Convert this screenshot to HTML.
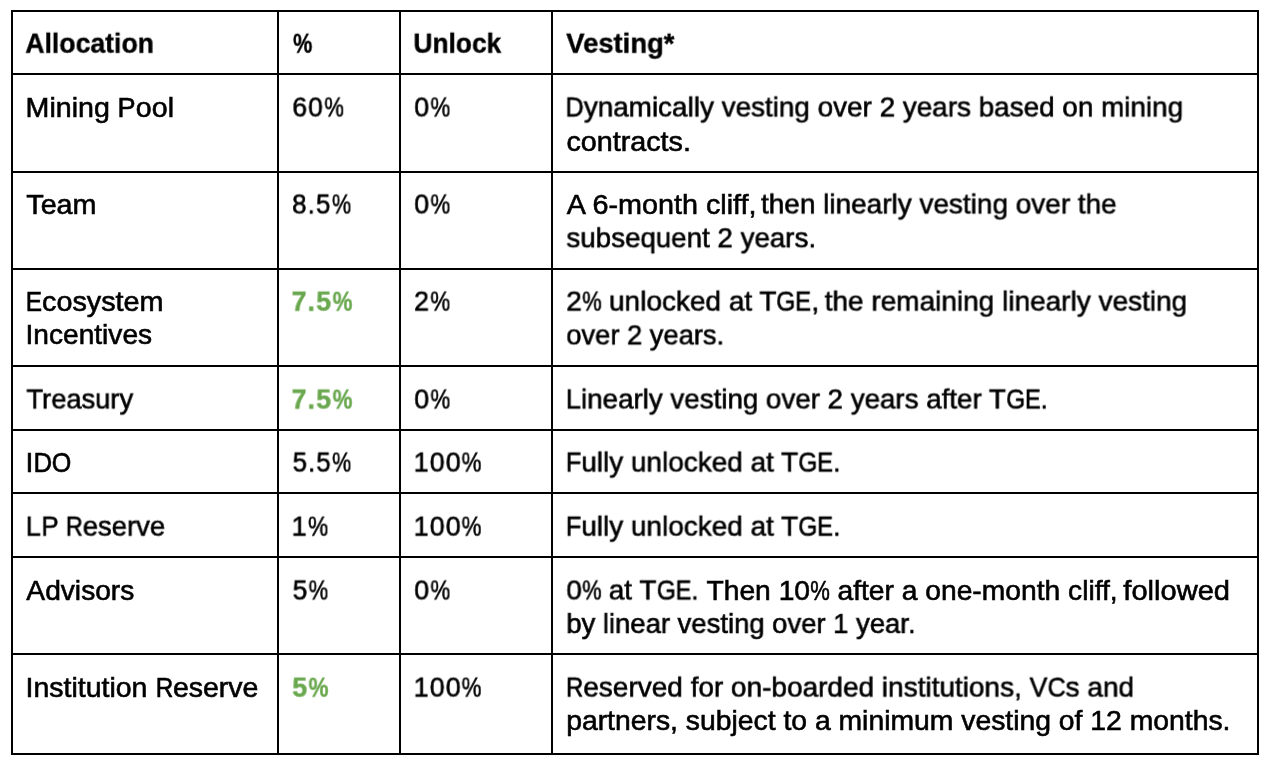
<!DOCTYPE html>
<html lang="en">
<head>
<meta charset="utf-8">
<title>Token Allocation</title>
<style>
html,body{margin:0;padding:0;background:#fff;}
body{width:1272px;height:766px;position:relative;overflow:hidden;font-family:"Liberation Sans",sans-serif;}
.g{position:absolute;background:#000;}
.t{position:absolute;left:0;top:0;white-space:nowrap;font-size:28px;line-height:34px;height:34px;color:#000;transform-origin:0 0;margin:0;will-change:transform;-webkit-text-stroke:0.6px;}
.b{font-weight:bold;-webkit-text-stroke:0.4px;}
.gr{color:#6aa84f;}
.p{display:inline-block;transform:scaleX(0.78);transform-origin:0 50%;margin-right:-5.48px;}
.kC,.kD,.kE,.kF,.kG,.kO,.kP,.kR,.kV{display:inline-block;transform-origin:0 50%;}
.kC{transform:scaleX(0.900);margin-right:-2.02px;}
.kD{transform:scaleX(0.910);margin-right:-1.82px;}
.kE{transform:scaleX(0.850);margin-right:-2.80px;}
.kF{transform:scaleX(0.905);margin-right:-1.63px;}
.kG{transform:scaleX(0.875);margin-right:-2.72px;}
.kO{transform:scaleX(0.885);margin-right:-2.51px;}
.kP{transform:scaleX(0.945);margin-right:-1.03px;}
.kR{transform:scaleX(0.853);margin-right:-2.97px;}
.kV{transform:scaleX(0.955);margin-right:-0.84px;}
.n{letter-spacing:1.2px;}
.n .p{transform:scaleX(0.83);margin-right:0;letter-spacing:0;}

</style>
</head>
<body>
<div class="g" style="left:11px;top:10px;width:1248px;height:2px"></div>
<div class="g" style="left:11px;top:73px;width:1248px;height:2px"></div>
<div class="g" style="left:11px;top:171px;width:1248px;height:2px"></div>
<div class="g" style="left:11px;top:268px;width:1248px;height:2px"></div>
<div class="g" style="left:11px;top:365px;width:1248px;height:2px"></div>
<div class="g" style="left:11px;top:429px;width:1248px;height:2px"></div>
<div class="g" style="left:11px;top:492px;width:1248px;height:2px"></div>
<div class="g" style="left:11px;top:556px;width:1248px;height:2px"></div>
<div class="g" style="left:11px;top:653px;width:1248px;height:2px"></div>
<div class="g" style="left:11px;top:753px;width:1248px;height:2px"></div>
<div class="g" style="left:11px;top:10px;width:2px;height:745px"></div>
<div class="g" style="left:277px;top:10px;width:2px;height:745px"></div>
<div class="g" style="left:399px;top:10px;width:2px;height:745px"></div>
<div class="g" style="left:551px;top:10px;width:2px;height:745px"></div>
<div class="g" style="left:1257px;top:10px;width:2px;height:745px"></div>
<div class="t b" style="transform:translate(25.28px,26.70px) scaleX(0.9503)">Allocation</div>
<div class="t b" style="transform:translate(293.06px,26.70px) scaleX(0.7722)">%</div>
<div class="t b" style="transform:translate(413.44px,26.70px) scaleX(0.9405)">Unlock</div>
<div class="t b" style="transform:translate(566.21px,26.70px) scaleX(0.9799)">Vesting*</div>
<div class="t" style="transform:translate(25.58px,90.50px) scaleX(1.0217)">Mining <span class="kP">P</span>ool</div>
<div class="t n" style="transform:translate(292.33px,90.50px) scaleX(0.9423)">60<span class="p">%</span></div>
<div class="t n" style="transform:translate(414.21px,90.50px) scaleX(0.9542)">0<span class="p">%</span></div>
<div class="t" style="transform:translate(565.43px,90.50px) scaleX(0.9951)"><span class="kD">D</span>ynamically vesting over 2 years based on mining</div>
<div class="t" style="transform:translate(566.44px,124.50px) scaleX(1.0250)">contracts.</div>
<div class="t" style="transform:translate(26.28px,187.50px) scaleX(1.0253)">Team</div>
<div class="t n" style="transform:translate(292.11px,187.50px) scaleX(0.9260)">8.5<span class="p">%</span></div>
<div class="t n" style="transform:translate(414.21px,187.50px) scaleX(0.9542)">0<span class="p">%</span></div>
<div class="t" style="transform:translate(566.81px,187.50px) scaleX(1.0276)">A 6-month cliff,</div>
<div class="t" style="transform:translate(761.00px,187.50px) scaleX(0.9980)">then linearly vesting over the</div>
<div class="t" style="transform:translate(566.43px,221.30px) scaleX(0.9898)">subsequent 2 years.</div>
<div class="t" style="transform:translate(25.68px,284.60px) scaleX(1.0273)"><span class="kE">E</span>cosystem</div>
<div class="t" style="transform:translate(25.52px,318.40px) scaleX(1.0043)">Incentives</div>
<div class="t b gr n" style="transform:translate(291.54px,284.70px) scaleX(0.9562)">7.5<span class="p">%</span></div>
<div class="t n" style="transform:translate(414.03px,284.60px) scaleX(0.9586)">2<span class="p">%</span></div>
<div class="t" style="transform:translate(566.21px,284.60px) scaleX(0.9998)">2<span class="p">%</span> unlocked at T<span class="kG">G</span><span class="kE">E</span>,</div>
<div class="t" style="transform:translate(824.66px,284.60px) scaleX(0.9996)">the remaining linearly vesting</div>
<div class="t" style="transform:translate(566.29px,318.40px) scaleX(0.9755)">over 2 years.</div>
<div class="t" style="transform:translate(26.43px,382.50px) scaleX(0.9747)">Treasury</div>
<div class="t b gr n" style="transform:translate(291.54px,382.60px) scaleX(0.9562)">7.5<span class="p">%</span></div>
<div class="t n" style="transform:translate(414.21px,382.50px) scaleX(0.9542)">0<span class="p">%</span></div>
<div class="t" style="transform:translate(565.65px,382.50px) scaleX(0.9900)">Linearly vesting over 2 years after T<span class="kG">G</span><span class="kE">E</span>.</div>
<div class="t" style="transform:translate(25.44px,445.55px) scaleX(1.0121)">I<span class="kD">D</span><span class="kO">O</span></div>
<div class="t n" style="transform:translate(292.65px,445.55px) scaleX(0.9182)">5.5<span class="p">%</span></div>
<div class="t n" style="transform:translate(413.61px,445.55px) scaleX(0.9593)">100<span class="p">%</span></div>
<div class="t" style="transform:translate(565.81px,445.55px) scaleX(0.9975)"><span class="kF">F</span>ully unlocked at T<span class="kG">G</span><span class="kE">E</span>.</div>
<div class="t" style="transform:translate(25.65px,509.65px) scaleX(0.9801)">L<span class="kP">P</span> <span class="kR">R</span>eserve</div>
<div class="t n" style="transform:translate(291.52px,509.65px) scaleX(0.9723)">1<span class="p">%</span></div>
<div class="t n" style="transform:translate(413.61px,509.65px) scaleX(0.9592)">100<span class="p">%</span></div>
<div class="t" style="transform:translate(565.81px,509.65px) scaleX(0.9975)"><span class="kF">F</span>ully unlocked at T<span class="kG">G</span><span class="kE">E</span>.</div>
<div class="t" style="transform:translate(26.36px,573.50px) scaleX(1.0055)">Advisors</div>
<div class="t n" style="transform:translate(292.65px,573.50px) scaleX(0.9416)">5<span class="p">%</span></div>
<div class="t n" style="transform:translate(414.21px,573.50px) scaleX(0.9542)">0<span class="p">%</span></div>
<div class="t" style="transform:translate(566.35px,573.50px) scaleX(0.9935)">0<span class="p">%</span> at T<span class="kG">G</span><span class="kE">E</span>.</div>
<div class="t" style="transform:translate(706.50px,573.50px) scaleX(1.0077)">Then 10<span class="p">%</span> after a one-month cliff,</div>
<div class="t" style="transform:translate(1123.36px,573.50px) scaleX(1.0383)">followed</div>
<div class="t" style="transform:translate(566.33px,607.05px) scaleX(0.9797)">by linear vesting over 1 year.</div>
<div class="t" style="transform:translate(25.52px,670.60px) scaleX(1.0171)">Institution <span class="kR">R</span>eserve</div>
<div class="t b gr n" style="transform:translate(292.23px,670.70px) scaleX(0.9615)">5<span class="p">%</span></div>
<div class="t n" style="transform:translate(413.61px,670.60px) scaleX(0.9593)">100<span class="p">%</span></div>
<div class="t" style="transform:translate(566.04px,670.60px) scaleX(0.9990)"><span class="kR">R</span>eserved for on-boarded institutions, <span class="kV">V</span><span class="kC">C</span>s and</div>
<div class="t" style="transform:translate(566.18px,704.30px) scaleX(1.0114)">partners, subject to a minimum vesting of 12 months.</div>
</body>
</html>
